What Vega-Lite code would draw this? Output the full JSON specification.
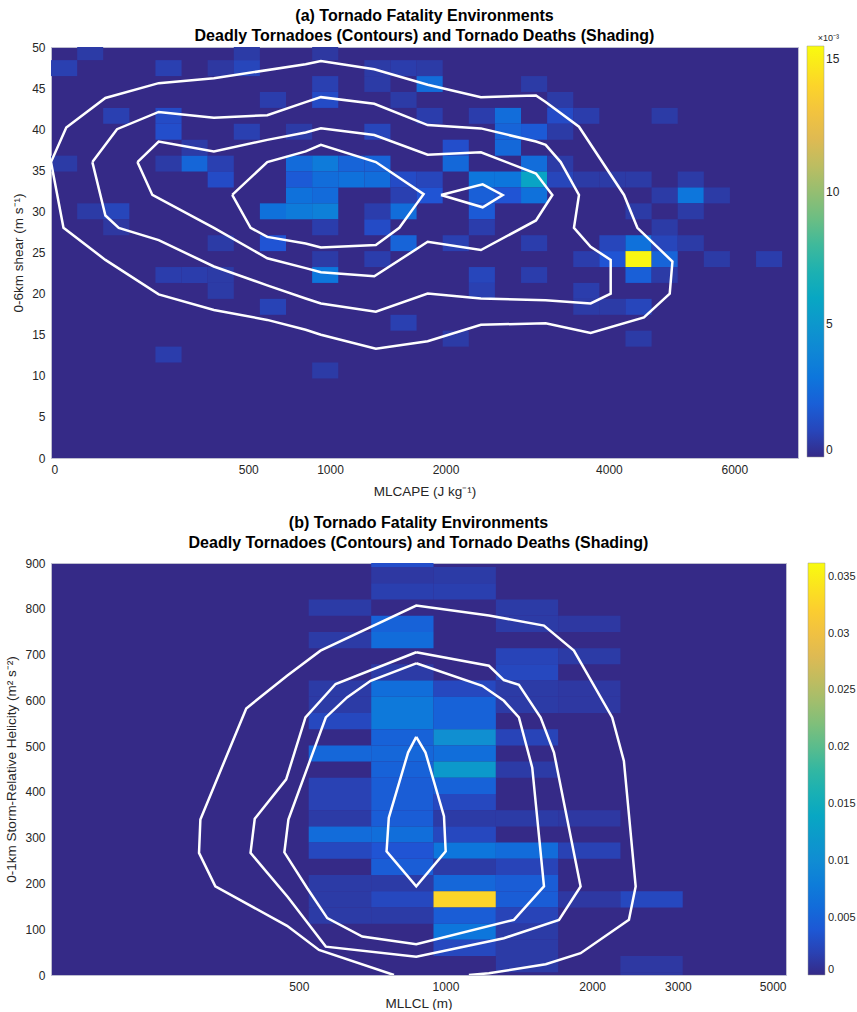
{
"$schema": "https://vega.github.io/schema/vega-lite/v6.json",
"padding": {"left": 4, "top": 7, "right": 0, "bottom": 0},
"background": "white",
"config": {
  "font": "Liberation Sans",
  "view": {"fill": "#352a87", "stroke": "#bdbdd0", "strokeWidth": 1},
  "axis": {"grid": false, "ticks": false, "domain": false, "labelFontSize": 12, "labelColor": "#262626", "titleFontSize": 13.5, "titleFontWeight": "normal", "titleColor": "#262626", "labelPadding": 6, "titlePadding": 6},
  "axisX": {"titlePadding": 9},
  "title": {"fontSize": 16, "fontWeight": "bold", "color": "#000000", "lineHeight": 20, "offset": 6, "anchor": "middle", "frame": "group"},
  "concat": {"spacing": 16}
},
"datasets": {
  "cellsA": [
    {"x0":8.8,"x1":35,"y0":48.4,"y1":50,"v":0.0006},
    {"x0":429.3,"x1":560.7,"y0":48.4,"y1":50,"v":0.0006},
    {"x0":876.2,"x1":1060.2,"y0":48.4,"y1":50,"v":0.0005},
    {"x0":0,"x1":8.8,"y0":46.46,"y1":48.4,"v":0.0008},
    {"x0":140.2,"x1":219,"y0":46.46,"y1":48.4,"v":0.0008},
    {"x0":315.4,"x1":429.3,"y0":46.46,"y1":48.4,"v":0.0005},
    {"x0":429.3,"x1":560.7,"y0":46.46,"y1":48.4,"v":0.001},
    {"x0":1261.7,"x1":1480.7,"y0":46.46,"y1":48.4,"v":0.0006},
    {"x0":1480.7,"x1":1717.3,"y0":46.46,"y1":48.4,"v":0.0007},
    {"x0":1717.3,"x1":1971.4,"y0":46.46,"y1":48.4,"v":0.0006},
    {"x0":876.2,"x1":1060.2,"y0":44.53,"y1":46.46,"v":0.0008},
    {"x0":1261.7,"x1":1480.7,"y0":44.53,"y1":46.46,"v":0.0006},
    {"x0":1717.3,"x1":1971.4,"y0":44.53,"y1":46.46,"v":0.0026},
    {"x0":2838.8,"x1":3162.9,"y0":44.53,"y1":46.46,"v":0.0006},
    {"x0":560.7,"x1":709.7,"y0":42.59,"y1":44.53,"v":0.0007},
    {"x0":876.2,"x1":1060.2,"y0":42.59,"y1":44.53,"v":0.0012},
    {"x0":1480.7,"x1":1717.3,"y0":42.59,"y1":44.53,"v":0.0006},
    {"x0":3162.9,"x1":3504.6,"y0":42.59,"y1":44.53,"v":0.0006},
    {"x0":35,"x1":78.9,"y0":40.66,"y1":42.59,"v":0.0008},
    {"x0":140.2,"x1":219,"y0":40.66,"y1":42.59,"v":0.0012},
    {"x0":1717.3,"x1":1971.4,"y0":40.66,"y1":42.59,"v":0.0007},
    {"x0":2243,"x1":2532.1,"y0":40.66,"y1":42.59,"v":0.0007},
    {"x0":2532.1,"x1":2838.8,"y0":40.66,"y1":42.59,"v":0.0026},
    {"x0":3162.9,"x1":3504.6,"y0":40.66,"y1":42.59,"v":0.0012},
    {"x0":3504.6,"x1":3863.9,"y0":40.66,"y1":42.59,"v":0.0007},
    {"x0":4634.9,"x1":5046.7,"y0":40.66,"y1":42.59,"v":0.0006},
    {"x0":140.2,"x1":219,"y0":38.72,"y1":40.66,"v":0.0013},
    {"x0":429.3,"x1":560.7,"y0":38.72,"y1":40.66,"v":0.0008},
    {"x0":709.7,"x1":876.2,"y0":38.72,"y1":40.66,"v":0.0006},
    {"x0":1261.7,"x1":1480.7,"y0":38.72,"y1":40.66,"v":0.001},
    {"x0":2532.1,"x1":2838.8,"y0":38.72,"y1":40.66,"v":0.0022},
    {"x0":2838.8,"x1":3162.9,"y0":38.72,"y1":40.66,"v":0.0018},
    {"x0":3162.9,"x1":3504.6,"y0":38.72,"y1":40.66,"v":0.0006},
    {"x0":219,"x1":315.4,"y0":36.78,"y1":38.72,"v":0.0006},
    {"x0":1971.4,"x1":2243,"y0":36.78,"y1":38.72,"v":0.0013},
    {"x0":2532.1,"x1":2838.8,"y0":36.78,"y1":38.72,"v":0.0024},
    {"x0":0,"x1":8.8,"y0":34.85,"y1":36.78,"v":0.0006},
    {"x0":140.2,"x1":219,"y0":34.85,"y1":36.78,"v":0.0006},
    {"x0":219,"x1":315.4,"y0":34.85,"y1":36.78,"v":0.0023},
    {"x0":315.4,"x1":429.3,"y0":34.85,"y1":36.78,"v":0.0008},
    {"x0":709.7,"x1":876.2,"y0":34.85,"y1":36.78,"v":0.0025},
    {"x0":876.2,"x1":1060.2,"y0":34.85,"y1":36.78,"v":0.0033},
    {"x0":1060.2,"x1":1261.7,"y0":34.85,"y1":36.78,"v":0.0022},
    {"x0":1261.7,"x1":1480.7,"y0":34.85,"y1":36.78,"v":0.0022},
    {"x0":1971.4,"x1":2243,"y0":34.85,"y1":36.78,"v":0.0024},
    {"x0":2838.8,"x1":3162.9,"y0":34.85,"y1":36.78,"v":0.0026},
    {"x0":3162.9,"x1":3504.6,"y0":34.85,"y1":36.78,"v":0.0006},
    {"x0":315.4,"x1":429.3,"y0":32.91,"y1":34.85,"v":0.0012},
    {"x0":709.7,"x1":876.2,"y0":32.91,"y1":34.85,"v":0.0018},
    {"x0":876.2,"x1":1060.2,"y0":32.91,"y1":34.85,"v":0.0026},
    {"x0":1060.2,"x1":1261.7,"y0":32.91,"y1":34.85,"v":0.0028},
    {"x0":1261.7,"x1":1480.7,"y0":32.91,"y1":34.85,"v":0.0026},
    {"x0":1480.7,"x1":1717.3,"y0":32.91,"y1":34.85,"v":0.0012},
    {"x0":1717.3,"x1":1971.4,"y0":32.91,"y1":34.85,"v":0.001},
    {"x0":2243,"x1":2532.1,"y0":32.91,"y1":34.85,"v":0.003},
    {"x0":2532.1,"x1":2838.8,"y0":32.91,"y1":34.85,"v":0.003},
    {"x0":2838.8,"x1":3162.9,"y0":32.91,"y1":34.85,"v":0.0058},
    {"x0":3162.9,"x1":3504.6,"y0":32.91,"y1":34.85,"v":0.001},
    {"x0":3504.6,"x1":3863.9,"y0":32.91,"y1":34.85,"v":0.0006},
    {"x0":3863.9,"x1":4240.6,"y0":32.91,"y1":34.85,"v":0.0006},
    {"x0":4240.6,"x1":4634.9,"y0":32.91,"y1":34.85,"v":0.0006},
    {"x0":5046.7,"x1":5476,"y0":32.91,"y1":34.85,"v":0.0006},
    {"x0":709.7,"x1":876.2,"y0":30.98,"y1":32.91,"v":0.0028},
    {"x0":876.2,"x1":1060.2,"y0":30.98,"y1":32.91,"v":0.0025},
    {"x0":1480.7,"x1":1717.3,"y0":30.98,"y1":32.91,"v":0.0008},
    {"x0":1717.3,"x1":1971.4,"y0":30.98,"y1":32.91,"v":0.0015},
    {"x0":2243,"x1":2532.1,"y0":30.98,"y1":32.91,"v":0.002},
    {"x0":2532.1,"x1":2838.8,"y0":30.98,"y1":32.91,"v":0.0015},
    {"x0":2838.8,"x1":3162.9,"y0":30.98,"y1":32.91,"v":0.0028},
    {"x0":4634.9,"x1":5046.7,"y0":30.98,"y1":32.91,"v":0.0006},
    {"x0":5046.7,"x1":5476,"y0":30.98,"y1":32.91,"v":0.003},
    {"x0":5476,"x1":5922.8,"y0":30.98,"y1":32.91,"v":0.0006},
    {"x0":8.8,"x1":35,"y0":29.04,"y1":30.98,"v":0.0006},
    {"x0":35,"x1":78.9,"y0":29.04,"y1":30.98,"v":0.001},
    {"x0":560.7,"x1":709.7,"y0":29.04,"y1":30.98,"v":0.0028},
    {"x0":709.7,"x1":876.2,"y0":29.04,"y1":30.98,"v":0.0033},
    {"x0":876.2,"x1":1060.2,"y0":29.04,"y1":30.98,"v":0.0036},
    {"x0":1261.7,"x1":1480.7,"y0":29.04,"y1":30.98,"v":0.0007},
    {"x0":1480.7,"x1":1717.3,"y0":29.04,"y1":30.98,"v":0.0026},
    {"x0":2243,"x1":2532.1,"y0":29.04,"y1":30.98,"v":0.0018},
    {"x0":4240.6,"x1":4634.9,"y0":29.04,"y1":30.98,"v":0.0006},
    {"x0":5046.7,"x1":5476,"y0":29.04,"y1":30.98,"v":0.0006},
    {"x0":35,"x1":78.9,"y0":27.1,"y1":29.04,"v":0.0005},
    {"x0":876.2,"x1":1060.2,"y0":27.1,"y1":29.04,"v":0.0007},
    {"x0":1261.7,"x1":1480.7,"y0":27.1,"y1":29.04,"v":0.0012},
    {"x0":2243,"x1":2532.1,"y0":27.1,"y1":29.04,"v":0.0007},
    {"x0":4634.9,"x1":5046.7,"y0":27.1,"y1":29.04,"v":0.0006},
    {"x0":315.4,"x1":429.3,"y0":25.17,"y1":27.1,"v":0.0006},
    {"x0":560.7,"x1":709.7,"y0":25.17,"y1":27.1,"v":0.0015},
    {"x0":1480.7,"x1":1717.3,"y0":25.17,"y1":27.1,"v":0.0022},
    {"x0":1971.4,"x1":2243,"y0":25.17,"y1":27.1,"v":0.0008},
    {"x0":2838.8,"x1":3162.9,"y0":25.17,"y1":27.1,"v":0.0007},
    {"x0":3863.9,"x1":4240.6,"y0":25.17,"y1":27.1,"v":0.001},
    {"x0":4240.6,"x1":4634.9,"y0":25.17,"y1":27.1,"v":0.0028},
    {"x0":4634.9,"x1":5046.7,"y0":25.17,"y1":27.1,"v":0.001},
    {"x0":5046.7,"x1":5476,"y0":25.17,"y1":27.1,"v":0.0006},
    {"x0":876.2,"x1":1060.2,"y0":23.23,"y1":25.17,"v":0.0006},
    {"x0":1261.7,"x1":1480.7,"y0":23.23,"y1":25.17,"v":0.0007},
    {"x0":3504.6,"x1":3863.9,"y0":23.23,"y1":25.17,"v":0.0007},
    {"x0":3863.9,"x1":4240.6,"y0":23.23,"y1":25.17,"v":0.0015},
    {"x0":4240.6,"x1":4634.9,"y0":23.23,"y1":25.17,"v":0.0153},
    {"x0":4634.9,"x1":5046.7,"y0":23.23,"y1":25.17,"v":0.0022},
    {"x0":5476,"x1":5922.8,"y0":23.23,"y1":25.17,"v":0.0006},
    {"x0":6387.2,"x1":6869.1,"y0":23.23,"y1":25.17,"v":0.0007},
    {"x0":140.2,"x1":219,"y0":21.3,"y1":23.23,"v":0.0007},
    {"x0":219,"x1":315.4,"y0":21.3,"y1":23.23,"v":0.0007},
    {"x0":315.4,"x1":429.3,"y0":21.3,"y1":23.23,"v":0.0006},
    {"x0":876.2,"x1":1060.2,"y0":21.3,"y1":23.23,"v":0.003},
    {"x0":2243,"x1":2532.1,"y0":21.3,"y1":23.23,"v":0.001},
    {"x0":2838.8,"x1":3162.9,"y0":21.3,"y1":23.23,"v":0.0007},
    {"x0":4240.6,"x1":4634.9,"y0":21.3,"y1":23.23,"v":0.002},
    {"x0":4634.9,"x1":5046.7,"y0":21.3,"y1":23.23,"v":0.0006},
    {"x0":315.4,"x1":429.3,"y0":19.36,"y1":21.3,"v":0.0006},
    {"x0":2243,"x1":2532.1,"y0":19.36,"y1":21.3,"v":0.0008},
    {"x0":3504.6,"x1":3863.9,"y0":19.36,"y1":21.3,"v":0.0007},
    {"x0":560.7,"x1":709.7,"y0":17.42,"y1":19.36,"v":0.0009},
    {"x0":3504.6,"x1":3863.9,"y0":17.42,"y1":19.36,"v":0.0006},
    {"x0":3863.9,"x1":4240.6,"y0":17.42,"y1":19.36,"v":0.0006},
    {"x0":4240.6,"x1":4634.9,"y0":17.42,"y1":19.36,"v":0.001},
    {"x0":1480.7,"x1":1717.3,"y0":15.49,"y1":17.42,"v":0.0008},
    {"x0":1971.4,"x1":2243,"y0":13.55,"y1":15.49,"v":0.0006},
    {"x0":4240.6,"x1":4634.9,"y0":13.55,"y1":15.49,"v":0.0006},
    {"x0":140.2,"x1":219,"y0":11.62,"y1":13.55,"v":0.0007},
    {"x0":876.2,"x1":1060.2,"y0":9.68,"y1":11.62,"v":0.0006}
  ],
  "contA": [
    {"id":"a1","i":0,"x":0,"y":36.0},{"id":"a1","i":1,"x":3,"y":40.2},{"id":"a1","i":2,"x":38,"y":43.8},{"id":"a1","i":3,"x":149,"y":45.6},{"id":"a1","i":4,"x":341,"y":46.2},{"id":"a1","i":5,"x":833,"y":47.9},{"id":"a1","i":6,"x":936,"y":48.3},{"id":"a1","i":7,"x":1343,"y":47.3},{"id":"a1","i":8,"x":1823,"y":45.4},{"id":"a1","i":9,"x":2375,"y":43.9},{"id":"a1","i":10,"x":3022,"y":44.1},{"id":"a1","i":11,"x":3144,"y":43.3},{"id":"a1","i":12,"x":3582,"y":40.3},{"id":"a1","i":13,"x":4219,"y":32.0},{"id":"a1","i":14,"x":4418,"y":28.0},{"id":"a1","i":15,"x":4962,"y":23.9},{"id":"a1","i":16,"x":4919,"y":20.0},{"id":"a1","i":17,"x":4518,"y":17.1},{"id":"a1","i":18,"x":3742,"y":15.2},{"id":"a1","i":19,"x":3144,"y":16.4},{"id":"a1","i":20,"x":2375,"y":16.2},{"id":"a1","i":21,"x":1823,"y":14.2},{"id":"a1","i":22,"x":1356,"y":13.3},{"id":"a1","i":23,"x":936,"y":15.0},{"id":"a1","i":24,"x":833,"y":15.6},{"id":"a1","i":25,"x":601,"y":16.8},{"id":"a1","i":26,"x":341,"y":18.0},{"id":"a1","i":27,"x":149,"y":19.9},{"id":"a1","i":28,"x":38,"y":24.1},{"id":"a1","i":29,"x":2,"y":28.0},{"id":"a1","i":30,"x":0,"y":36.0},
    {"id":"a2","i":0,"x":22,"y":36.0},{"id":"a2","i":1,"x":56,"y":40.0},{"id":"a2","i":2,"x":149,"y":42.1},{"id":"a2","i":3,"x":341,"y":41.4},{"id":"a2","i":4,"x":601,"y":41.7},{"id":"a2","i":5,"x":833,"y":43.3},{"id":"a2","i":6,"x":936,"y":43.9},{"id":"a2","i":7,"x":1343,"y":43.1},{"id":"a2","i":8,"x":1823,"y":40.5},{"id":"a2","i":9,"x":2375,"y":40.1},{"id":"a2","i":10,"x":3022,"y":38.5},{"id":"a2","i":11,"x":3144,"y":38.1},{"id":"a2","i":12,"x":3338,"y":36.0},{"id":"a2","i":13,"x":3582,"y":32.0},{"id":"a2","i":14,"x":3514,"y":28.0},{"id":"a2","i":15,"x":3742,"y":25.7},{"id":"a2","i":16,"x":4025,"y":24.1},{"id":"a2","i":17,"x":4025,"y":20.0},{"id":"a2","i":18,"x":3742,"y":18.8},{"id":"a2","i":19,"x":3144,"y":19.2},{"id":"a2","i":20,"x":2375,"y":19.4},{"id":"a2","i":21,"x":1823,"y":20.0},{"id":"a2","i":22,"x":1356,"y":17.8},{"id":"a2","i":23,"x":936,"y":18.8},{"id":"a2","i":24,"x":833,"y":19.4},{"id":"a2","i":25,"x":601,"y":21.0},{"id":"a2","i":26,"x":341,"y":23.3},{"id":"a2","i":27,"x":149,"y":26.5},{"id":"a2","i":28,"x":59,"y":28.0},{"id":"a2","i":29,"x":38,"y":29.5},{"id":"a2","i":30,"x":22,"y":36.0},
    {"id":"a3","i":0,"x":96,"y":36.0},{"id":"a3","i":1,"x":149,"y":38.5},{"id":"a3","i":2,"x":341,"y":37.3},{"id":"a3","i":3,"x":601,"y":38.7},{"id":"a3","i":4,"x":833,"y":39.6},{"id":"a3","i":5,"x":936,"y":40.1},{"id":"a3","i":6,"x":1343,"y":39.3},{"id":"a3","i":7,"x":1823,"y":36.9},{"id":"a3","i":8,"x":2375,"y":37.2},{"id":"a3","i":9,"x":3022,"y":34.6},{"id":"a3","i":10,"x":3230,"y":32.0},{"id":"a3","i":11,"x":3022,"y":28.9},{"id":"a3","i":12,"x":2375,"y":25.3},{"id":"a3","i":13,"x":1823,"y":26.3},{"id":"a3","i":14,"x":1343,"y":22.1},{"id":"a3","i":15,"x":936,"y":22.6},{"id":"a3","i":16,"x":833,"y":23.1},{"id":"a3","i":17,"x":601,"y":24.3},{"id":"a3","i":18,"x":341,"y":28.0},{"id":"a3","i":19,"x":132,"y":32.0},{"id":"a3","i":20,"x":96,"y":36.0},
    {"id":"a4","i":0,"x":422,"y":32.0},{"id":"a4","i":1,"x":601,"y":36.0},{"id":"a4","i":2,"x":833,"y":37.3},{"id":"a4","i":3,"x":936,"y":38.1},{"id":"a4","i":4,"x":1356,"y":36.0},{"id":"a4","i":5,"x":1784,"y":32.1},{"id":"a4","i":6,"x":1559,"y":28.0},{"id":"a4","i":7,"x":1356,"y":25.9},{"id":"a4","i":8,"x":936,"y":25.6},{"id":"a4","i":9,"x":833,"y":26.1},{"id":"a4","i":10,"x":601,"y":26.9},{"id":"a4","i":11,"x":512,"y":28.0},{"id":"a4","i":12,"x":422,"y":32.0},
    {"id":"a5","i":0,"x":1954,"y":32.0},{"id":"a5","i":1,"x":2394,"y":33.3},{"id":"a5","i":2,"x":2621,"y":32.0},{"id":"a5","i":3,"x":2394,"y":30.5},{"id":"a5","i":4,"x":1954,"y":32.0}
  ],
  "cellsB": [
    {"x0":524,"x1":704,"y0":784.8,"y1":820.2,"v":0.0014},
    {"x0":524,"x1":704,"y0":714,"y1":749.4,"v":0.0014},
    {"x0":524,"x1":704,"y0":607.8,"y1":643.2,"v":0.0014},
    {"x0":524,"x1":704,"y0":572.4,"y1":607.8,"v":0.0014},
    {"x0":524,"x1":704,"y0":537,"y1":572.4,"v":0.0025},
    {"x0":524,"x1":704,"y0":466.2,"y1":501.6,"v":0.0055},
    {"x0":524,"x1":704,"y0":395.4,"y1":430.8,"v":0.002},
    {"x0":524,"x1":704,"y0":360,"y1":395.4,"v":0.002},
    {"x0":524,"x1":704,"y0":324.6,"y1":360,"v":0.0014},
    {"x0":524,"x1":704,"y0":289.2,"y1":324.6,"v":0.006},
    {"x0":524,"x1":704,"y0":253.8,"y1":289.2,"v":0.0025},
    {"x0":524,"x1":704,"y0":183,"y1":218.4,"v":0.0014},
    {"x0":524,"x1":704,"y0":147.6,"y1":183,"v":0.0014},
    {"x0":524,"x1":704,"y0":112.2,"y1":147.6,"v":0.0014},
    {"x0":704,"x1":945,"y0":891,"y1":900,"v":0.003},
    {"x0":704,"x1":945,"y0":855.6,"y1":891,"v":0.0012},
    {"x0":704,"x1":945,"y0":820.2,"y1":855.6,"v":0.0018},
    {"x0":704,"x1":945,"y0":749.4,"y1":784.8,"v":0.005},
    {"x0":704,"x1":945,"y0":714,"y1":749.4,"v":0.006},
    {"x0":704,"x1":945,"y0":643.2,"y1":678.6,"v":0.0014},
    {"x0":704,"x1":945,"y0":607.8,"y1":643.2,"v":0.0062},
    {"x0":704,"x1":945,"y0":572.4,"y1":607.8,"v":0.0075},
    {"x0":704,"x1":945,"y0":537,"y1":572.4,"v":0.0075},
    {"x0":704,"x1":945,"y0":501.6,"y1":537,"v":0.005},
    {"x0":704,"x1":945,"y0":466.2,"y1":501.6,"v":0.0055},
    {"x0":704,"x1":945,"y0":430.8,"y1":466.2,"v":0.005},
    {"x0":704,"x1":945,"y0":395.4,"y1":430.8,"v":0.0045},
    {"x0":704,"x1":945,"y0":360,"y1":395.4,"v":0.0045},
    {"x0":704,"x1":945,"y0":324.6,"y1":360,"v":0.0045},
    {"x0":704,"x1":945,"y0":289.2,"y1":324.6,"v":0.0062},
    {"x0":704,"x1":945,"y0":253.8,"y1":289.2,"v":0.0035},
    {"x0":704,"x1":945,"y0":218.4,"y1":253.8,"v":0.0045},
    {"x0":704,"x1":945,"y0":183,"y1":218.4,"v":0.0014},
    {"x0":704,"x1":945,"y0":147.6,"y1":183,"v":0.0025},
    {"x0":704,"x1":945,"y0":112.2,"y1":147.6,"v":0.0014},
    {"x0":945,"x1":1269,"y0":855.6,"y1":891,"v":0.0014},
    {"x0":945,"x1":1269,"y0":820.2,"y1":855.6,"v":0.0018},
    {"x0":945,"x1":1269,"y0":607.8,"y1":643.2,"v":0.0025},
    {"x0":945,"x1":1269,"y0":572.4,"y1":607.8,"v":0.005},
    {"x0":945,"x1":1269,"y0":537,"y1":572.4,"v":0.005},
    {"x0":945,"x1":1269,"y0":501.6,"y1":537,"v":0.0105},
    {"x0":945,"x1":1269,"y0":466.2,"y1":501.6,"v":0.0062},
    {"x0":945,"x1":1269,"y0":430.8,"y1":466.2,"v":0.012},
    {"x0":945,"x1":1269,"y0":395.4,"y1":430.8,"v":0.005},
    {"x0":945,"x1":1269,"y0":360,"y1":395.4,"v":0.0025},
    {"x0":945,"x1":1269,"y0":324.6,"y1":360,"v":0.0014},
    {"x0":945,"x1":1269,"y0":289.2,"y1":324.6,"v":0.0025},
    {"x0":945,"x1":1269,"y0":253.8,"y1":289.2,"v":0.007},
    {"x0":945,"x1":1269,"y0":218.4,"y1":253.8,"v":0.0014},
    {"x0":945,"x1":1269,"y0":183,"y1":218.4,"v":0.0055},
    {"x0":945,"x1":1269,"y0":147.6,"y1":183,"v":0.0328},
    {"x0":945,"x1":1269,"y0":112.2,"y1":147.6,"v":0.0045},
    {"x0":945,"x1":1269,"y0":76.8,"y1":112.2,"v":0.007},
    {"x0":945,"x1":1269,"y0":41.4,"y1":76.8,"v":0.0025},
    {"x0":1269,"x1":1703,"y0":784.8,"y1":820.2,"v":0.0014},
    {"x0":1269,"x1":1703,"y0":749.4,"y1":784.8,"v":0.0014},
    {"x0":1269,"x1":1703,"y0":678.6,"y1":714,"v":0.0022},
    {"x0":1269,"x1":1703,"y0":643.2,"y1":678.6,"v":0.0025},
    {"x0":1269,"x1":1703,"y0":607.8,"y1":643.2,"v":0.0014},
    {"x0":1269,"x1":1703,"y0":572.4,"y1":607.8,"v":0.0014},
    {"x0":1269,"x1":1703,"y0":501.6,"y1":537,"v":0.0022},
    {"x0":1269,"x1":1703,"y0":430.8,"y1":466.2,"v":0.0014},
    {"x0":1269,"x1":1703,"y0":324.6,"y1":360,"v":0.0014},
    {"x0":1269,"x1":1703,"y0":253.8,"y1":289.2,"v":0.006},
    {"x0":1269,"x1":1703,"y0":218.4,"y1":253.8,"v":0.0022},
    {"x0":1269,"x1":1703,"y0":183,"y1":218.4,"v":0.0045},
    {"x0":1269,"x1":1703,"y0":147.6,"y1":183,"v":0.0045},
    {"x0":1269,"x1":1703,"y0":112.2,"y1":147.6,"v":0.0022},
    {"x0":1269,"x1":1703,"y0":76.8,"y1":112.2,"v":0.0014},
    {"x0":1269,"x1":1703,"y0":41.4,"y1":76.8,"v":0.0014},
    {"x0":1269,"x1":1703,"y0":6,"y1":41.4,"v":0.0014},
    {"x0":1703,"x1":2286,"y0":749.4,"y1":784.8,"v":0.0012},
    {"x0":1703,"x1":2286,"y0":678.6,"y1":714,"v":0.0014},
    {"x0":1703,"x1":2286,"y0":607.8,"y1":643.2,"v":0.0012},
    {"x0":1703,"x1":2286,"y0":572.4,"y1":607.8,"v":0.0012},
    {"x0":1703,"x1":2286,"y0":324.6,"y1":360,"v":0.0012},
    {"x0":1703,"x1":2286,"y0":253.8,"y1":289.2,"v":0.002},
    {"x0":1703,"x1":2286,"y0":147.6,"y1":183,"v":0.0012},
    {"x0":2286,"x1":3069,"y0":147.6,"y1":183,"v":0.0025},
    {"x0":2286,"x1":3069,"y0":6,"y1":41.4,"v":0.0012},
    {"x0":2286,"x1":3069,"y0":0,"y1":6,"v":0.0012}
  ],
  "contB": [
    {"id":"b1","i":0,"x":784,"y":0},{"id":"b1","i":1,"x":550,"y":54.8},{"id":"b1","i":2,"x":473,"y":107.4},{"id":"b1","i":3,"x":337,"y":193.5},{"id":"b1","i":4,"x":312,"y":266.7},{"id":"b1","i":5,"x":314,"y":339.7},{"id":"b1","i":6,"x":390,"y":582.3},{"id":"b1","i":7,"x":473,"y":653.7},{"id":"b1","i":8,"x":554,"y":708.5},{"id":"b1","i":9,"x":871,"y":807.1},{"id":"b1","i":10,"x":1228,"y":785.2},{"id":"b1","i":11,"x":1593,"y":763.3},{"id":"b1","i":12,"x":1835,"y":708.5},{"id":"b1","i":13,"x":2199,"y":562.6},{"id":"b1","i":14,"x":2324,"y":467.5},{"id":"b1","i":15,"x":2457,"y":193.5},{"id":"b1","i":16,"x":2380,"y":120.5},{"id":"b1","i":17,"x":1894,"y":47.6},{"id":"b1","i":18,"x":1606,"y":23.4},{"id":"b1","i":19,"x":1228,"y":3.7},{"id":"b1","i":20,"x":1117,"y":0},
    {"id":"b2","i":0,"x":871,"y":705.0},{"id":"b2","i":1,"x":1228,"y":675.6},{"id":"b2","i":2,"x":1318,"y":644.3},{"id":"b2","i":3,"x":1415,"y":634.0},{"id":"b2","i":4,"x":1568,"y":562.6},{"id":"b2","i":5,"x":1670,"y":485.9},{"id":"b2","i":6,"x":1894,"y":193.5},{"id":"b2","i":7,"x":1710,"y":120.5},{"id":"b2","i":8,"x":1318,"y":80.4},{"id":"b2","i":9,"x":871,"y":40.1},{"id":"b2","i":10,"x":568,"y":62.0},{"id":"b2","i":11,"x":475,"y":170},{"id":"b2","i":12,"x":398,"y":266.7},{"id":"b2","i":13,"x":406,"y":341.2},{"id":"b2","i":14,"x":471,"y":427.4},{"id":"b2","i":15,"x":516,"y":562.6},{"id":"b2","i":16,"x":595,"y":635.6},{"id":"b2","i":17,"x":871,"y":705.0},
    {"id":"b3","i":0,"x":871,"y":680.9},{"id":"b3","i":1,"x":1190,"y":631.8},{"id":"b3","i":2,"x":1318,"y":599.0},{"id":"b3","i":3,"x":1415,"y":562.6},{"id":"b3","i":4,"x":1507,"y":453.0},{"id":"b3","i":5,"x":1593,"y":193.5},{"id":"b3","i":6,"x":1382,"y":120.5},{"id":"b3","i":7,"x":871,"y":67.3},{"id":"b3","i":8,"x":675,"y":83.9},{"id":"b3","i":9,"x":572,"y":124.3},{"id":"b3","i":10,"x":520,"y":190.0},{"id":"b3","i":11,"x":467,"y":268.0},{"id":"b3","i":12,"x":476,"y":339.7},{"id":"b3","i":13,"x":568,"y":562.6},{"id":"b3","i":14,"x":628,"y":606.4},{"id":"b3","i":15,"x":702,"y":642.8},{"id":"b3","i":16,"x":871,"y":680.9},
    {"id":"b4","i":0,"x":871,"y":520.1},{"id":"b4","i":1,"x":910,"y":485.9},{"id":"b4","i":2,"x":993,"y":346.9},{"id":"b4","i":3,"x":1001,"y":270.2},{"id":"b4","i":4,"x":871,"y":193.5},{"id":"b4","i":5,"x":757,"y":270.2},{"id":"b4","i":6,"x":765,"y":343.4},{"id":"b4","i":7,"x":838,"y":485.9},{"id":"b4","i":8,"x":871,"y":520.1}
  ]
},
"vconcat": [
  {
    "title": {"text": ["(a) Tornado Fatality Environments", "Deadly Tornadoes (Contours) and Tornado Deaths (Shading)"], "offset": -10},
    "width": 747,
    "height": 411,
    "layer": [
      {
        "data": {"name": "cellsA"},
        "mark": {"type": "rect", "clip": true},
        "encoding": {
          "x": {"field": "x0", "type": "quantitative", "scale": {"type": "sqrt", "domain": [0, 7170], "nice": false, "zero": false}, "axis": {"values": [0, 500, 1000, 2000, 4000, 6000], "format": "d", "title": "MLCAPE (J kg⁻¹)"}},
          "x2": {"field": "x1"},
          "y": {"field": "y0", "type": "quantitative", "scale": {"domain": [0, 50], "nice": false, "zero": false}, "axis": {"values": [0, 5, 10, 15, 20, 25, 30, 35, 40, 45, 50], "title": "0-6km shear (m s⁻¹)"}},
          "y2": {"field": "y1"},
          "color": {"field": "v", "type": "quantitative",
            "scale": {"domain": [0, 0.001476, 0.002953, 0.004429, 0.00615, 0.007628, 0.009103, 0.010825, 0.012302, 0.013778, 0.0155], "range": ["#352a87", "#2053d4", "#0d75dc", "#108ed2", "#07a9c2", "#2eb7a4", "#71bf80", "#b7bd64", "#e9b94e", "#fcce2e", "#f9fb0e"], "interpolate": "rgb"},
            "legend": {"type": "gradient", "orient": "none", "legendX": 756, "legendY": -13, "direction": "vertical", "gradientLength": 411, "gradientThickness": 17, "values": [0, 0.005, 0.01, 0.015], "labelExpr": "format(datum.value*1000, '~g')", "title": "×10⁻³", "titleFontSize": 9, "titleFontWeight": "normal", "titleColor": "#262626", "titlePadding": 3, "titleAnchor": "end", "labelFontSize": 12, "labelColor": "#262626", "gradientStrokeColor": "#999999", "gradientStrokeWidth": 0.5, "labelOverlap": false}
          }
        }
      },
      {
        "data": {"name": "contA"},
        "mark": {"type": "line", "color": "white", "strokeWidth": 2.5, "clip": true},
        "encoding": {
          "x": {"field": "x", "type": "quantitative"},
          "y": {"field": "y", "type": "quantitative"},
          "detail": {"field": "id"},
          "order": {"field": "i", "type": "quantitative"}
        }
      }
    ]
  },
  {
    "title": {"text": ["(b) Tornado Fatality Environments", "Deadly Tornadoes (Contours) and Tornado Deaths (Shading)"]},
    "width": 735,
    "height": 412,
    "layer": [
      {
        "data": {"name": "cellsB"},
        "mark": {"type": "rect", "clip": true},
        "encoding": {
          "x": {"field": "x0", "type": "quantitative", "scale": {"type": "log", "domain": [155, 5000], "nice": false}, "axis": {"values": [500, 1000, 2000, 3000, 5000], "format": "d", "title": "MLLCL (m)", "titlePadding": 4}},
          "x2": {"field": "x1"},
          "y": {"field": "y0", "type": "quantitative", "scale": {"domain": [0, 900], "nice": false, "zero": false}, "axis": {"values": [0, 100, 200, 300, 400, 500, 600, 700, 800, 900], "title": "0-1km Storm-Relative Helicity (m² s⁻²)"}},
          "y2": {"field": "y1"},
          "color": {"field": "v", "type": "quantitative",
            "scale": {"domain": [0, 0.003448, 0.006896, 0.010343, 0.014364, 0.017814, 0.02126, 0.025282, 0.028732, 0.032178, 0.0362], "range": ["#352a87", "#2053d4", "#0d75dc", "#108ed2", "#07a9c2", "#2eb7a4", "#71bf80", "#b7bd64", "#e9b94e", "#fcce2e", "#f9fb0e"], "interpolate": "rgb"},
            "legend": {"type": "gradient", "orient": "none", "legendX": 757, "legendY": 0, "direction": "vertical", "gradientLength": 412, "gradientThickness": 17, "values": [0, 0.005, 0.01, 0.015, 0.02, 0.025, 0.03, 0.035], "format": "~g", "title": null, "labelFontSize": 11, "labelOffset": 3, "labelColor": "#262626", "gradientStrokeColor": "#999999", "gradientStrokeWidth": 0.5, "labelOverlap": false}
          }
        }
      },
      {
        "data": {"name": "contB"},
        "mark": {"type": "line", "color": "white", "strokeWidth": 2.5, "clip": true},
        "encoding": {
          "x": {"field": "x", "type": "quantitative"},
          "y": {"field": "y", "type": "quantitative"},
          "detail": {"field": "id"},
          "order": {"field": "i", "type": "quantitative"}
        }
      }
    ]
  }
],
"resolve": {"scale": {"color": "independent", "x": "independent", "y": "independent"}, "legend": {"color": "independent"}}
}
